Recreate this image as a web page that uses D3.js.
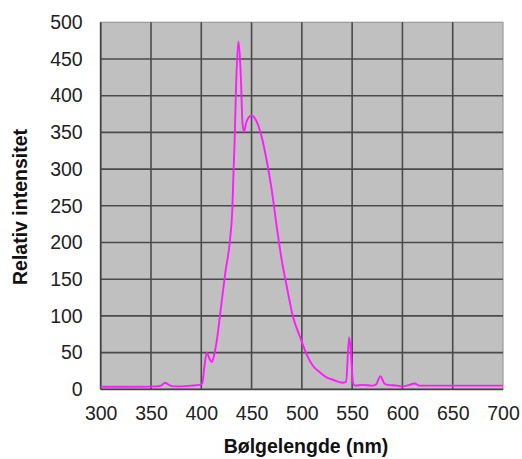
<!DOCTYPE html>
<html>
<head>
<meta charset="utf-8">
<script src="https://d3js.org/d3.v7.min.js"></script>
<style>
body { margin: 0; background: #fff; }
svg { display: block; }
.tick text { font-family: Arial, "Liberation Sans", sans-serif; font-size: 19.5px; fill: #222; }
.title { font-family: Arial, "Liberation Sans", sans-serif; font-size: 19.5px; font-weight: bold; fill: #111; }
</style>
</head>
<body>
<svg width="522" height="459"></svg>
<script>
// spectrum
var wavelength = [300, 320, 340, 355, 360, 364, 368, 372, 380, 390, 398, 401, 403, 405.5, 408, 410.5, 413, 415.5, 419, 424,
  428.5, 431, 432, 433.2, 434.5, 436.8, 438.5, 439.5, 441, 442.5, 445, 450, 455, 460, 465, 470, 475, 480, 485, 491,
  498, 505, 511, 518, 525, 531, 541, 544, 547, 549, 551, 553, 560, 570, 574, 578, 582, 585, 595, 600,
  607, 612, 617, 620, 650, 700];
var intensity = [3.5, 3.5, 3.5, 4, 5, 9, 6, 4, 4, 5, 6, 8, 30, 50, 42, 37, 48, 67, 105, 160,
  203, 250, 294, 340, 408, 474, 450, 420, 362, 351, 365, 373, 365, 344, 312, 272, 222, 176, 140, 100,
  72, 47, 32, 23, 16, 13, 9, 10, 71, 45, 8, 5, 6, 5, 7, 18, 8, 6, 5, 4,
  6, 8, 5, 5, 5, 5];
var xTicks = [300, 350, 400, 450, 500, 550, 600, 650, 700];
var yTicks = [0, 50, 100, 150, 200, 250, 300, 350, 400, 450, 500];

var svg = d3.select("svg");
var mLeft = 100.7, mTop = 22.3, w = 402.3, h = 367;

var x = d3.scaleLinear().domain([300, 700]).range([0, w]);
var y = d3.scaleLinear().domain([0, 500]).range([h, 0]);

var g = svg.append("g").attr("transform", "translate(" + mLeft + "," + mTop + ")");

// grey plot area
g.append("rect").attr("width", w).attr("height", h).attr("fill", "#c0c0c0");

// border (lighter on top/right)
g.append("rect").attr("width", w).attr("height", h)
  .attr("fill", "none").attr("stroke", "#9a9a9a").attr("stroke-width", 1.2);

// grid lines
g.selectAll(".vgrid").data(xTicks.slice(1, -1)).enter().append("line")
  .attr("x1", function(d){ return x(d); }).attr("x2", function(d){ return x(d); })
  .attr("y1", 0).attr("y2", h)
  .attr("stroke", "#4a4a4a").attr("stroke-width", 1.6);
g.selectAll(".hgrid").data(yTicks.slice(1, -1)).enter().append("line")
  .attr("y1", function(d){ return y(d); }).attr("y2", function(d){ return y(d); })
  .attr("x1", 0).attr("x2", w)
  .attr("stroke", "#4a4a4a").attr("stroke-width", 1.6);

// left and bottom axis lines
g.append("line").attr("x1", 0).attr("x2", 0).attr("y1", 0).attr("y2", h)
  .attr("stroke", "#444").attr("stroke-width", 1.8);
g.append("line").attr("x1", 0).attr("x2", w).attr("y1", h).attr("y2", h)
  .attr("stroke", "#444").attr("stroke-width", 1.8);

// axes (labels only)
var xAxis = g.append("g").attr("transform", "translate(0," + h + ")")
  .call(d3.axisBottom(x).tickValues(xTicks).tickSize(0).tickPadding(17).tickFormat(d3.format("d")));
xAxis.select(".domain").remove();

var yAxis = g.append("g")
  .call(d3.axisLeft(y).tickValues(yTicks).tickSize(0).tickPadding(18).tickFormat(d3.format("d")));
yAxis.select(".domain").remove();
g.selectAll(".tick text").attr("font-size", null).attr("font-family", null);

// spectrum line
var pts = wavelength.map(function(d, i){ return [d, intensity[i]]; });
var line = d3.line()
  .x(function(d){ return x(d[0]); })
  .y(function(d){ return y(d[1]); })
  .curve(d3.curveMonotoneX);

g.append("path").datum(pts)
  .attr("d", line)
  .attr("fill", "none")
  .attr("stroke", "#ff1aff")
  .attr("stroke-width", 1.9)
  .attr("stroke-linejoin", "round");

// titles
svg.append("text").attr("class", "title")
  .attr("x", 306).attr("y", 453)
  .attr("text-anchor", "middle")
  .text("Bølgelengde (nm)");

svg.append("text").attr("class", "title")
  .attr("transform", "translate(26.7,207) rotate(-90)")
  .attr("text-anchor", "middle")
  .text("Relativ intensitet");
</script>
</body>
</html>
